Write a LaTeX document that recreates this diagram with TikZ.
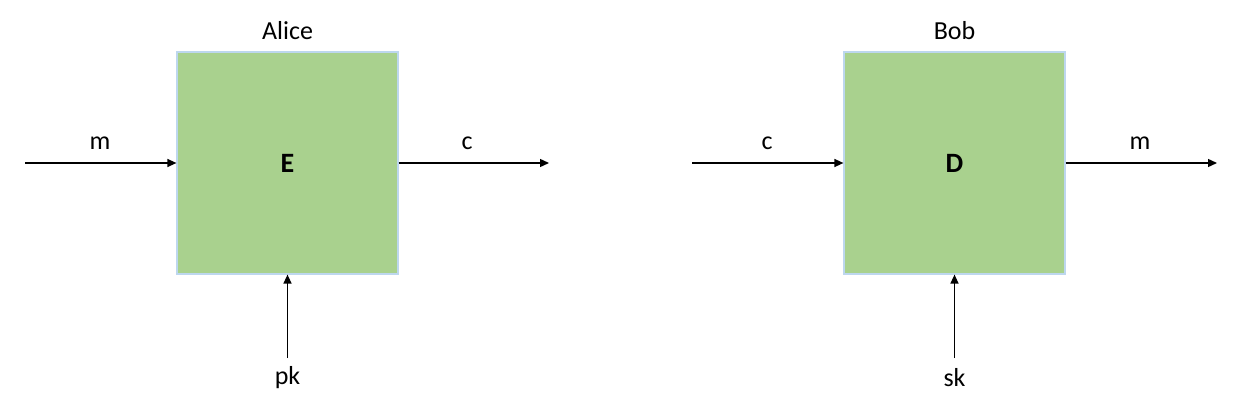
\documentclass[tikz,border=0pt]{standalone}
\usepackage{fontspec}
\setmainfont{Carlito}
\usetikzlibrary{arrows.meta}
\definecolor{boxfill}{HTML}{A9D18E}
\definecolor{boxline}{HTML}{BDD7EE}
\begin{document}
\begin{tikzpicture}[x=1pt,y=-1pt,
  blockbox/.style={draw=boxline,fill=boxfill,line width=1.2pt,minimum width=221pt,minimum height=222pt,inner sep=0pt,font=\fontsize{28}{33}\selectfont\bfseries},
  lbl/.style={inner sep=0pt,font=\fontsize{26}{31}\selectfont},
  arr/.style={line width=1.3pt,-{Triangle[length=9pt,width=8pt]}}]
\useasboundingbox (0,0) rectangle (1250,409);
\node[blockbox] (E) at (287.5,163) {E};
\node[blockbox] (D) at (954.5,163) {D};
\node[lbl] (alice) at (287.5,31) {Alice};
\node[lbl] (bob) at (954.5,31) {Bob};
\coordinate (min) at (25,163);
\coordinate (cout) at (549,163);
\coordinate (cin) at (692,163);
\coordinate (mout) at (1217,163);
\coordinate (pkc) at (287.5,358);
\coordinate (skc) at (954.5,358);
\draw[arr] (min) -- (E.west);
\draw[arr] (E.east) -- (cout);
\draw[arr] (cin) -- (D.west);
\draw[arr] (D.east) -- (mout);
\draw[arr] (pkc) -- (E.south);
\draw[arr] (skc) -- (D.south);
\node[lbl] (lm1) at (100,143) {m};
\node[lbl] (lc1) at (467,143) {c};
\node[lbl] (lc2) at (767,143) {c};
\node[lbl] (lm2) at (1140,143) {m};
\node[lbl] (lpk) at (287.5,378) {pk};
\node[lbl] (lsk) at (954.5,378) {sk};
\end{tikzpicture}
\end{document}
